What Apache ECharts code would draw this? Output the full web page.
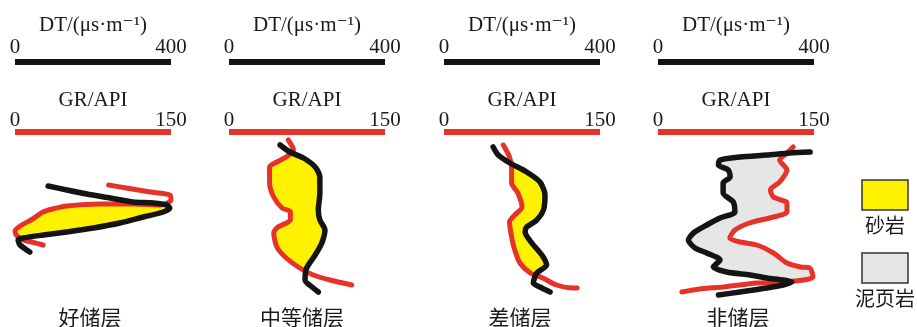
<!DOCTYPE html>
<html>
<head>
<meta charset="utf-8">
<script src="https://cdn.jsdelivr.net/npm/echarts@6/dist/echarts.min.js"></script>
<style>
  html, body { margin: 0; padding: 0; background: #fff; }
  #chart { width: 917px; height: 327px; }
</style>
</head>
<body>
<div id="chart"></div>
<script>
// Log-response sketches of four reservoir classes: acoustic (DT) and gamma-ray (GR)
// curves, with the sand / shale interval shaded between them.

const panelNames = ['好储层', '中等储层', '差储层', '非储层'];
const dtScale = [0, 400];     // μs/m
const grScale = [0, 150];     // API
const depthRange = [0, 170];  // relative depth

// [DT (μs/m), depth]
const dtGood = [[85,54],[133,58],[184,62],[244,66],[303,70],[355,71],[389,73],[397,76],[380,80],[329,85],[269,91],[201,96],[133,100],[73,103],[21,106],[8,108],[13,113],[38,120]];
// [GR (API), depth]
const grGood = [[90,53],[107,56],[130,60],[149,63],[150,68],[140,73],[114,72],[82,72],[50,74],[36,77],[27,80],[17,87],[5,94],[0,99],[2,104],[8,108],[16,110],[27,113]];

const dtMedium = [[131,13],[156,20],[191,26],[221,35],[233,45],[233,61],[229,78],[233,88],[246,98],[238,111],[221,123],[199,136],[195,148],[216,156],[229,160]];
const grMedium = [[57,8],[62,18],[55,25],[46,30],[39,35],[39,51],[43,65],[51,76],[59,80],[59,88],[47,95],[43,101],[46,115],[55,126],[68,136],[81,143],[97,148],[118,153]];

const dtPoor = [[126,15],[139,23],[169,31],[212,40],[246,50],[259,63],[255,78],[238,88],[212,95],[208,100],[225,111],[251,123],[263,133],[238,141],[229,151],[246,155],[272,160]];
const grPoor = [[57,13],[63,25],[65,36],[65,51],[71,61],[75,75],[68,83],[63,90],[65,105],[68,118],[73,131],[83,141],[95,146],[108,153],[124,156],[128,156]];

const dtNon = [[390,20],[338,21],[279,23],[210,25],[159,28],[155,33],[180,38],[185,45],[167,51],[167,61],[193,70],[197,80],[159,86],[125,93],[91,101],[78,108],[95,116],[125,121],[159,128],[142,135],[176,140],[236,143],[279,146],[321,148],[343,150],[321,153],[279,156],[210,160],[155,163]];
const grNon = [[130,15],[124,21],[117,28],[124,38],[117,50],[108,58],[111,65],[124,71],[124,80],[111,85],[88,91],[74,98],[69,106],[79,110],[95,113],[111,121],[124,131],[137,135],[146,136],[149,145],[140,148],[120,150],[95,151],[63,155],[40,157],[23,160]];

// Which stretch of each curve bounds the shaded interval: GR from..to, then DT back from..to
const panels = [
  { dt: dtGood,   gr: grGood,   fill: { gr: [5, 14], dt: [15, 7] }, color: '#fff200' },
  { dt: dtMedium, gr: grMedium, fill: { gr: [1, 14], dt: [11, 1] }, color: '#fff200' },
  { dt: dtPoor,   gr: grPoor,   fill: { gr: [2, 11], dt: [13, 2] }, color: '#fff200' },
  { dt: dtNon,    gr: grNon,    fill: { gr: [20, 1], dt: [1, 24] }, color: '#e6e6e6' }
];

const legendItems = [
  { name: '砂岩', color: '#fff200' },
  { name: '泥页岩', color: '#e6e6e6' }
];

const panelLeft = [15, 229, 444, 658];
const panelWidth = 156;
const gridTop = 132;
const RED = '#e6332a';
const BLACK = '#141414';
const serif = '"Liberation Serif", "DejaVu Serif", serif';
const cjk = '"Noto Sans CJK SC", sans-serif';

function pick(arr, from, to) {
  const out = [];
  const step = from <= to ? 1 : -1;
  for (let i = from; i !== to + step; i += step) out.push(arr[i]);
  return out;
}

const grids = [], xAxes = [], yAxes = [], series = [];

panels.forEach((p, k) => {
  grids.push({ left: panelLeft[k], top: gridTop, width: panelWidth, height: depthRange[1] - depthRange[0] });

  const axisCommon = {
    gridIndex: k, type: 'value', position: 'top',
    axisTick: { show: false }, splitLine: { show: false },
    nameLocation: 'middle', nameMoveOverlap: false,
    nameTextStyle: { fontFamily: serif, fontSize: 21, color: '#1a1a1a' }
  };
  const labelStyle = { fontFamily: serif, fontSize: 21, color: '#1a1a1a' };
  xAxes.push(Object.assign({}, axisCommon, {
    min: grScale[0], max: grScale[1], interval: grScale[1] - grScale[0],
    name: 'GR/API', nameGap: 21,
    axisLabel: Object.assign({ margin: 1 }, labelStyle),
    axisLine: { onZero: false, lineStyle: { color: RED, width: 6, cap: 'butt' } }
  }));
  xAxes.push(Object.assign({}, axisCommon, {
    min: dtScale[0], max: dtScale[1], interval: dtScale[1] - dtScale[0], offset: 70,
    name: 'DT/(μs·m⁻¹)', nameGap: 26,
    axisLabel: Object.assign({ margin: 4 }, labelStyle),
    axisLine: { onZero: false, lineStyle: { color: BLACK, width: 6, cap: 'butt' } }
  }));
  yAxes.push({ gridIndex: k, type: 'value', min: depthRange[0], max: depthRange[1], inverse: true, show: false });

  // shaded interval between the GR and DT curves (DT rescaled onto the GR axis)
  const ratio = (grScale[1] - grScale[0]) / (dtScale[1] - dtScale[0]);
  const poly = pick(p.gr, p.fill.gr[0], p.fill.gr[1])
    .concat(pick(p.dt, p.fill.dt[0], p.fill.dt[1]).map(d => [d[0] * ratio, d[1]]));
  series.push({
    type: 'custom', xAxisIndex: 2 * k, yAxisIndex: k, z: 1, silent: true,
    data: [0],
    renderItem: (params, api) => ({
      type: 'polygon',
      shape: { points: poly.map(pt => api.coord(pt)), smooth: 0.25 },
      style: { fill: p.color }
    })
  });

  const lineCommon = {
    type: 'line', yAxisIndex: k, showSymbol: false, symbol: 'none', smooth: 0.25,
    clip: false, silent: true
  };
  series.push(Object.assign({}, lineCommon, {
    name: 'GR', xAxisIndex: 2 * k, z: 2, data: p.gr,
    lineStyle: { color: RED, width: 5, cap: 'round', join: 'round' }
  }));
  series.push(Object.assign({}, lineCommon, {
    name: 'DT', xAxisIndex: 2 * k + 1, z: 3, data: p.dt,
    lineStyle: { color: BLACK, width: 5.5, cap: 'round', join: 'round' }
  }));
});

const labelCenters = [90, 302, 520, 738];
const graphics = panelNames.map((t, k) => ({
  type: 'text', x: labelCenters[k], y: 317,
  style: { text: t, fill: '#1a1a1a', font: '21px ' + cjk, textAlign: 'center', textVerticalAlign: 'middle' }
}));
legendItems.forEach((item, i) => {
  const top = 180 + i * 73;
  graphics.push({
    type: 'rect', shape: { x: 862, y: top, width: 46, height: 30 },
    style: { fill: item.color, stroke: '#333', lineWidth: 1.5 }
  });
  graphics.push({
    type: 'text', x: 885, y: top + 45,
    style: { text: item.name, fill: '#1a1a1a', font: '20px ' + cjk, textAlign: 'center', textVerticalAlign: 'middle' }
  });
});

const chart = echarts.init(document.getElementById('chart'), null, { renderer: 'canvas' });
chart.setOption({
  animation: false,
  backgroundColor: '#fff',
  grid: grids,
  xAxis: xAxes,
  yAxis: yAxes,
  series: series,
  graphic: graphics
});
</script>
</body>
</html>
